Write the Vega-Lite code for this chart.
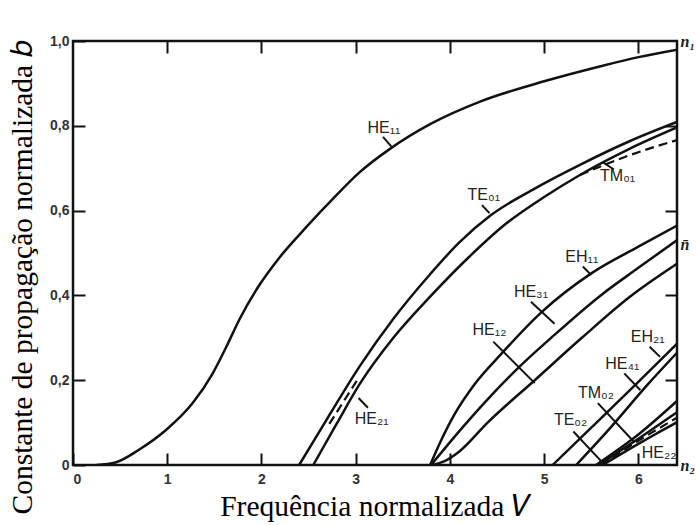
{
  "$schema": "https://vega.github.io/schema/vega-lite/v6.json",
  "width": 604,
  "height": 424,
  "autosize": "none",
  "padding": {"left": 73, "top": 41, "right": 19, "bottom": 60},
  "background": "white",
  "config": {
    "view": {"stroke": "#111", "strokeWidth": 2.5},
    "axis": {
      "grid": false,
      "domain": false,
      "tickColor": "#111",
      "tickWidth": 2,
      "labelFont": "Liberation Sans",
      "labelFontWeight": "bold",
      "labelFontSize": 14,
      "labelColor": "#333",
      "titleFont": "Liberation Serif",
      "titleFontWeight": "normal",
      "titleFontSize": 29.5,
      "titleColor": "#000"
    }
  },
  "datasets": {
    "curves": [
      {"curve": "HE11", "style": "solid", "V": 0.25, "b": 0},
      {"curve": "HE11", "style": "solid", "V": 0.45, "b": 0.006},
      {"curve": "HE11", "style": "solid", "V": 0.7, "b": 0.036},
      {"curve": "HE11", "style": "solid", "V": 0.99, "b": 0.083},
      {"curve": "HE11", "style": "solid", "V": 1.27, "b": 0.146},
      {"curve": "HE11", "style": "solid", "V": 1.48, "b": 0.215},
      {"curve": "HE11", "style": "solid", "V": 1.63, "b": 0.28},
      {"curve": "HE11", "style": "solid", "V": 1.77, "b": 0.345},
      {"curve": "HE11", "style": "solid", "V": 1.98, "b": 0.425},
      {"curve": "HE11", "style": "solid", "V": 2.19, "b": 0.489},
      {"curve": "HE11", "style": "solid", "V": 2.48, "b": 0.562},
      {"curve": "HE11", "style": "solid", "V": 2.76, "b": 0.628},
      {"curve": "HE11", "style": "solid", "V": 3.04, "b": 0.69},
      {"curve": "HE11", "style": "solid", "V": 3.36, "b": 0.745},
      {"curve": "HE11", "style": "solid", "V": 3.8, "b": 0.805},
      {"curve": "HE11", "style": "solid", "V": 4.32, "b": 0.857},
      {"curve": "HE11", "style": "solid", "V": 5.0, "b": 0.905},
      {"curve": "HE11", "style": "solid", "V": 5.59, "b": 0.94},
      {"curve": "HE11", "style": "solid", "V": 6.0, "b": 0.962},
      {"curve": "HE11", "style": "solid", "V": 6.42, "b": 0.98},

      {"curve": "TE01", "style": "solid", "V": 2.4, "b": 0},
      {"curve": "TE01", "style": "solid", "V": 2.7, "b": 0.11},
      {"curve": "TE01", "style": "solid", "V": 3.04, "b": 0.232},
      {"curve": "TE01", "style": "solid", "V": 3.4, "b": 0.345},
      {"curve": "TE01", "style": "solid", "V": 3.79, "b": 0.45},
      {"curve": "TE01", "style": "solid", "V": 4.1, "b": 0.525},
      {"curve": "TE01", "style": "solid", "V": 4.44, "b": 0.59},
      {"curve": "TE01", "style": "solid", "V": 4.9, "b": 0.652},
      {"curve": "TE01", "style": "solid", "V": 5.38, "b": 0.708},
      {"curve": "TE01", "style": "solid", "V": 5.9, "b": 0.763},
      {"curve": "TE01", "style": "solid", "V": 6.42, "b": 0.81},

      {"curve": "TM01s", "style": "solid", "V": 2.55, "b": 0},
      {"curve": "TM01s", "style": "solid", "V": 2.8, "b": 0.098},
      {"curve": "TM01s", "style": "solid", "V": 3.04, "b": 0.19},
      {"curve": "TM01s", "style": "solid", "V": 3.4, "b": 0.3},
      {"curve": "TM01s", "style": "solid", "V": 3.79, "b": 0.397},
      {"curve": "TM01s", "style": "solid", "V": 4.2, "b": 0.49},
      {"curve": "TM01s", "style": "solid", "V": 4.6, "b": 0.57},
      {"curve": "TM01s", "style": "solid", "V": 5.0, "b": 0.632},
      {"curve": "TM01s", "style": "solid", "V": 5.38, "b": 0.684},
      {"curve": "TM01s", "style": "solid", "V": 5.9, "b": 0.745},
      {"curve": "TM01s", "style": "solid", "V": 6.42, "b": 0.797},

      {"curve": "HE21d", "style": "dashed", "V": 2.72, "b": 0.097},
      {"curve": "HE21d", "style": "dashed", "V": 3.03, "b": 0.205},
      {"curve": "TM01d", "style": "dashed", "V": 5.38, "b": 0.684},
      {"curve": "TM01d", "style": "dashed", "V": 5.9, "b": 0.73},
      {"curve": "TM01d", "style": "dashed", "V": 6.42, "b": 0.767},

      {"curve": "EH11", "style": "solid", "V": 3.79, "b": 0},
      {"curve": "EH11", "style": "solid", "V": 3.9, "b": 0.055},
      {"curve": "EH11", "style": "solid", "V": 4.05, "b": 0.12},
      {"curve": "EH11", "style": "solid", "V": 4.26, "b": 0.19},
      {"curve": "EH11", "style": "solid", "V": 4.545, "b": 0.262},
      {"curve": "EH11", "style": "solid", "V": 4.97, "b": 0.36},
      {"curve": "EH11", "style": "solid", "V": 5.5, "b": 0.452},
      {"curve": "EH11", "style": "solid", "V": 6.0, "b": 0.515},
      {"curve": "EH11", "style": "solid", "V": 6.42, "b": 0.566},

      {"curve": "HE31", "style": "solid", "V": 3.8, "b": 0},
      {"curve": "HE31", "style": "solid", "V": 4.1, "b": 0.08},
      {"curve": "HE31", "style": "solid", "V": 4.4, "b": 0.155},
      {"curve": "HE31", "style": "solid", "V": 4.72, "b": 0.228},
      {"curve": "HE31", "style": "solid", "V": 5.1, "b": 0.305},
      {"curve": "HE31", "style": "solid", "V": 5.6, "b": 0.4},
      {"curve": "HE31", "style": "solid", "V": 6.0, "b": 0.465},
      {"curve": "HE31", "style": "solid", "V": 6.42, "b": 0.532},

      {"curve": "HE12", "style": "solid", "V": 3.8, "b": 0},
      {"curve": "HE12", "style": "solid", "V": 3.95, "b": 0.01},
      {"curve": "HE12", "style": "solid", "V": 4.1, "b": 0.032},
      {"curve": "HE12", "style": "solid", "V": 4.4, "b": 0.1},
      {"curve": "HE12", "style": "solid", "V": 4.9, "b": 0.2},
      {"curve": "HE12", "style": "solid", "V": 5.4, "b": 0.3},
      {"curve": "HE12", "style": "solid", "V": 5.9, "b": 0.395},
      {"curve": "HE12", "style": "solid", "V": 6.42, "b": 0.476},

      {"curve": "EH21", "style": "solid", "V": 5.09, "b": 0},
      {"curve": "EH21", "style": "solid", "V": 5.5, "b": 0.088},
      {"curve": "EH21", "style": "solid", "V": 6.0, "b": 0.196},
      {"curve": "EH21", "style": "solid", "V": 6.42, "b": 0.288},

      {"curve": "HE41", "style": "solid", "V": 5.34, "b": 0},
      {"curve": "HE41", "style": "solid", "V": 5.7, "b": 0.087},
      {"curve": "HE41", "style": "solid", "V": 6.1, "b": 0.19},
      {"curve": "HE41", "style": "solid", "V": 6.42, "b": 0.267},

      {"curve": "B1", "style": "solid", "V": 5.55, "b": 0},
      {"curve": "B1", "style": "solid", "V": 6.0, "b": 0.072},
      {"curve": "B1", "style": "solid", "V": 6.42, "b": 0.153},
      {"curve": "B2", "style": "solid", "V": 5.58, "b": 0},
      {"curve": "B2", "style": "solid", "V": 6.0, "b": 0.062},
      {"curve": "B2", "style": "solid", "V": 6.42, "b": 0.126},
      {"curve": "B3", "style": "dashed", "V": 5.6, "b": 0},
      {"curve": "B3", "style": "dashed", "V": 6.0, "b": 0.057},
      {"curve": "B3", "style": "dashed", "V": 6.42, "b": 0.113},
      {"curve": "B4", "style": "solid", "V": 5.62, "b": 0},
      {"curve": "B4", "style": "solid", "V": 6.0, "b": 0.05},
      {"curve": "B4", "style": "solid", "V": 6.2, "b": 0.075},
      {"curve": "B4", "style": "solid", "V": 6.42, "b": 0.102}
    ],
    "labels": [
      {"text": "HE₁₁", "V": 3.3, "b": 0.795},
      {"text": "TE₀₁", "V": 4.36, "b": 0.637},
      {"text": "TM₀₁", "V": 5.78, "b": 0.682},
      {"text": "HE₂₁", "V": 3.17, "b": 0.108},
      {"text": "EH₁₁", "V": 5.4, "b": 0.49},
      {"text": "HE₃₁", "V": 4.86, "b": 0.409},
      {"text": "HE₁₂", "V": 4.42, "b": 0.318},
      {"text": "EH₂₁", "V": 6.1, "b": 0.303},
      {"text": "HE₄₁", "V": 5.83, "b": 0.238},
      {"text": "TM₀₂", "V": 5.55, "b": 0.17},
      {"text": "TE₀₂", "V": 5.28, "b": 0.106},
      {"text": "HE₂₂", "V": 6.22, "b": 0.029}
    ],
    "pointers": [
      {"V": 3.29, "b": 0.774, "V2": 3.38, "b2": 0.751},
      {"V": 4.34, "b": 0.613, "V2": 4.42, "b2": 0.594},
      {"V": 5.74, "b": 0.697, "V2": 5.63, "b2": 0.713},
      {"V": 3.13, "b": 0.135, "V2": 3.03, "b2": 0.158},
      {"V": 5.41, "b": 0.468, "V2": 5.5, "b2": 0.448},
      {"V": 4.86, "b": 0.385, "V2": 5.11, "b2": 0.333},
      {"V": 4.46, "b": 0.291, "V2": 4.9, "b2": 0.193},
      {"V": 6.12, "b": 0.279, "V2": 6.23, "b2": 0.255},
      {"V": 5.85, "b": 0.216, "V2": 6.02, "b2": 0.177},
      {"V": 5.57, "b": 0.146, "V2": 5.96, "b2": 0.053},
      {"V": 5.31, "b": 0.079, "V2": 5.61, "b2": 0.008}
    ]
  },
  "resolve": {"axis": {"x": "independent", "y": "independent"}},
  "layer": [
    {
      "data": {"name": "curves"},
      "transform": [{"filter": "datum.style == 'solid'"}],
      "mark": {"type": "line", "color": "#111", "strokeWidth": 2.5, "clip": true, "interpolate": "monotone"},
      "encoding": {
        "x": {
          "field": "V", "type": "quantitative",
          "scale": {"domain": [0, 6.41], "nice": false, "zero": false},
          "axis": {
            "orient": "bottom", "values": [0, 1, 2, 3, 4, 5, 6],
            "tickSize": -12, "labelPadding": 19,
            "title": "Frequência normalizada 𝑉",
            "titleY": 50, "titleBaseline": "alphabetic"
          }
        },
        "y": {
          "field": "b", "type": "quantitative",
          "scale": {"domain": [0, 1], "nice": false},
          "axis": {
            "orient": "left", "values": [0, 0.2, 0.4, 0.6, 0.8, 1],
            "tickSize": -12, "labelPadding": 16,
            "labelExpr": "datum.value == 0 ? '0' : replace(format(datum.value, '.1f'), '.', ',')",
            "title": "Constante de propagação normalizada 𝑏",
            "titleAngle": -90, "titleX": -42, "titleY": 236,
            "titleAlign": "center", "titleBaseline": "alphabetic"
          }
        },
        "detail": {"field": "curve"}
      }
    },
    {
      "data": {"name": "curves"},
      "transform": [{"filter": "datum.style == 'dashed'"}],
      "mark": {"type": "line", "color": "#111", "strokeWidth": 2.2, "strokeDash": [9, 5], "clip": true, "interpolate": "monotone"},
      "encoding": {
        "x": {
          "field": "V", "type": "quantitative",
          "scale": {"domain": [0, 6.41], "nice": false, "zero": false},
          "axis": {"orient": "top", "values": [1, 2, 3, 4, 5, 6], "tickSize": -12, "labels": false, "title": null}
        },
        "y": {
          "field": "b", "type": "quantitative",
          "scale": {"domain": [0, 1], "nice": false},
          "axis": {
            "orient": "right", "values": [0, 0.2, 0.4, 0.52, 0.6, 0.8, 1],
            "tickSize": -12, "labelPadding": 15,
            "tickOpacity": {"condition": {"test": "datum.value == 0 || datum.value == 1 || datum.value == 0.52", "value": 0}, "value": 1},
            "labelExpr": "datum.value == 1 ? 'n₁' : (datum.value == 0 ? 'n₂' : (datum.value == 0.52 ? 'n̄' : ''))",
            "labelFont": "Liberation Serif", "labelFontStyle": "italic", "labelFontWeight": "bold",
            "labelFontSize": 16, "labelColor": "#222", "labelBaseline": "middle",
            "title": null
          }
        },
        "detail": {"field": "curve"}
      }
    },
    {
      "data": {"name": "pointers"},
      "mark": {"type": "rule", "color": "#111", "strokeWidth": 2},
      "encoding": {
        "x": {"field": "V", "type": "quantitative", "axis": null},
        "y": {"field": "b", "type": "quantitative", "axis": null},
        "x2": {"field": "V2"},
        "y2": {"field": "b2"}
      }
    },
    {
      "data": {"name": "labels"},
      "mark": {"type": "text", "font": "Liberation Sans", "fontSize": 16, "color": "#222", "align": "center", "baseline": "middle"},
      "encoding": {
        "x": {"field": "V", "type": "quantitative", "axis": null},
        "y": {"field": "b", "type": "quantitative", "axis": null},
        "text": {"field": "text"}
      }
    }
  ]
}
